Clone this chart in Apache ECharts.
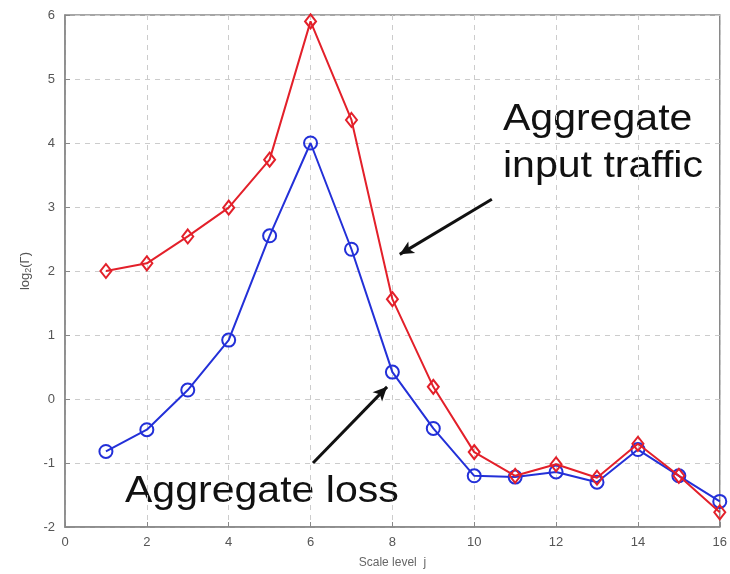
<!DOCTYPE html>
<html>
<head>
<meta charset="utf-8">
<script src="https://cdn.jsdelivr.net/npm/echarts@6/dist/echarts.min.js"></script>
<style>
  html, body { margin: 0; padding: 0; background: #fff; }
  #chart { width: 730px; height: 574px; }
</style>
</head>
<body>
<div id="chart"></div>
<script>
const scaleLevels = [1, 2, 3, 4, 5, 6, 7, 8, 9, 10, 11, 12, 13, 14, 15, 16]
const inputTraffic = [2.0, 2.12, 2.54, 2.99, 3.74, 5.9, 4.36, 1.56, 0.19, -0.83, -1.2, -1.02, -1.23, -0.7, -1.2, -1.77]
const aggregateLoss = [-0.82, -0.48, 0.14, 0.92, 2.55, 4.0, 2.34, 0.42, -0.46, -1.2, -1.22, -1.14, -1.3, -0.79, -1.2, -1.6]
const xTicks = [0, 2, 4, 6, 8, 10, 12, 14, 16]
const yTicks = [-2, -1, 0, 1, 2, 3, 4, 5, 6]
// arrow annotations in data units: [from, to]
const inputArrow = [[10.43, 3.12], [8.18, 2.26]]
const lossArrow = [[6.06, -1.0], [7.87, 0.19]]

const chart = echarts.init(document.getElementById('chart'))
const font = 'Liberation Sans, Arial, sans-serif'

const arrowLine = (pts) => ({
  silent: true,
  symbol: ['none', 'arrow'],
  symbolSize: [10, 14],
  label: { show: false },
  lineStyle: { color: '#111', width: 3, type: 'solid' },
  data: [[{ coord: pts[0] }, { coord: pts[1] }]]
})

const bigText = (text, x, y) => ({
  type: 'text', x: x, y: y, scaleX: 1.14,
  style: { text: text, font: '36px ' + font, fill: '#111', textBaseline: 'alphabetic' }
})

chart.setOption({
  animation: false,
  grid: { left: 65, right: 10, top: 15, bottom: 45, show: true, borderColor: '#888', borderWidth: 1.5 },
  xAxis: {
    type: 'value', min: xTicks[0], max: xTicks[xTicks.length - 1], interval: 2,
    name: 'Scale level  j', nameLocation: 'middle', nameGap: 30,
    nameTextStyle: { fontFamily: font, fontSize: 12, color: '#666' },
    axisLine: { onZero: false, lineStyle: { color: '#888', width: 1.5 } },
    axisTick: { inside: true, length: 5, lineStyle: { color: '#888' } },
    axisLabel: { fontFamily: font, fontSize: 13, color: '#555', margin: 9 },
    splitLine: { show: true, lineStyle: { color: '#ccc', type: [5, 5] } }
  },
  yAxis: {
    type: 'value', min: yTicks[0], max: yTicks[yTicks.length - 1], interval: 1,
    name: '{a|log}{s|2}{a|(Γ)}', nameLocation: 'middle', nameGap: 32,
    nameTextStyle: { rich: {
      a: { fontFamily: font, fontSize: 13, color: '#555' },
      s: { fontFamily: font, fontSize: 9, color: '#555', verticalAlign: 'bottom', padding: [6, 0, 0, 0] }
    } },
    axisLine: { onZero: false, lineStyle: { color: '#888', width: 1.5 } },
    axisTick: { inside: true, length: 5, lineStyle: { color: '#888' } },
    axisLabel: { fontFamily: font, fontSize: 13, color: '#555', margin: 10 },
    splitLine: { show: true, lineStyle: { color: '#ccc', type: [5, 5] } }
  },
  series: [
    {
      name: 'Aggregate input traffic', type: 'line',
      data: scaleLevels.map((x, i) => [x, inputTraffic[i]]),
      symbol: 'diamond', symbolSize: [11, 14], showAllSymbol: true,
      lineStyle: { color: '#e3202a', width: 2 },
      itemStyle: { color: 'rgba(255,255,255,0)', borderColor: '#e3202a', borderWidth: 2 },
      markLine: arrowLine(inputArrow), z: 3
    },
    {
      name: 'Aggregate loss', type: 'line',
      data: scaleLevels.map((x, i) => [x, aggregateLoss[i]]),
      symbol: 'circle', symbolSize: 13, showAllSymbol: true,
      lineStyle: { color: '#2330d8', width: 2 },
      itemStyle: { color: 'rgba(255,255,255,0)', borderColor: '#2330d8', borderWidth: 2 },
      markLine: arrowLine(lossArrow), z: 2
    }
  ],
  graphic: [
    bigText('Aggregate', 503, 102),
    bigText('input traffic', 503, 149),
    bigText('Aggregate loss', 125, 474)
  ]
})
</script>
</body>
</html>
